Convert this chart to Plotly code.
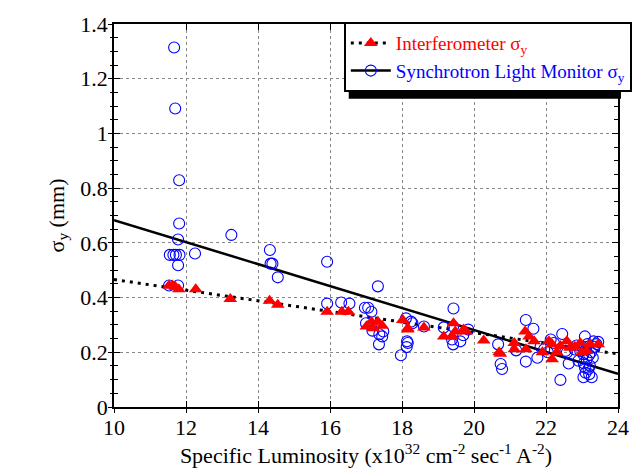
import plotly.graph_objects as go

# Synchrotron Light Monitor sigma_y (open blue circles)
slm_x = [11.67, 11.70, 11.81, 11.81, 11.78, 11.55, 11.65, 11.72, 11.82, 11.78, 12.25, 13.26,
         14.33, 14.35, 14.40, 14.55, 11.53, 11.78, 15.92, 17.33, 15.92, 16.31, 16.54, 16.97,
         17.06, 17.15, 17.15, 17.37, 17.48, 17.36, 18.11, 18.25, 18.16, 18.13, 17.97, 18.29,
         18.14, 18.61, 19.43, 19.16, 19.42, 19.39, 19.42, 19.62, 19.70, 19.84, 20.67, 20.74,
         20.78, 21.44, 21.65, 21.17, 21.44, 21.76, 22.13, 22.22, 22.45, 22.63, 22.40, 21.95,
         22.54, 22.58, 23.08, 23.32, 23.45, 22.95, 23.04, 23.13, 22.90, 23.08, 23.18, 23.04,
         23.27, 23.22, 23.00, 23.10, 23.20, 23.15, 23.25, 23.30, 23.05, 23.10, 23.20, 23.35,
         23.40, 22.80, 22.85, 21.85, 22.05, 17.00, 17.18, 17.45]
slm_y = [1.314, 1.091, 0.829, 0.671, 0.612, 0.556, 0.556, 0.556, 0.556, 0.518, 0.561, 0.629,
         0.574, 0.524, 0.524, 0.474, 0.444, 0.444, 0.531, 0.441, 0.378, 0.382, 0.378, 0.363,
         0.363, 0.348, 0.300, 0.266, 0.276, 0.229, 0.324, 0.312, 0.234, 0.219, 0.189, 0.306,
         0.240, 0.294, 0.360, 0.291, 0.294, 0.247, 0.229, 0.240, 0.262, 0.283, 0.229, 0.157,
         0.139, 0.318, 0.286, 0.207, 0.166, 0.180, 0.247, 0.234, 0.267, 0.159, 0.099, 0.211,
         0.205, 0.199, 0.258, 0.240, 0.238, 0.205, 0.193, 0.175, 0.169, 0.145, 0.139, 0.109,
         0.109, 0.151, 0.220, 0.210, 0.190, 0.230, 0.200, 0.180, 0.160, 0.125, 0.120, 0.220,
         0.230, 0.210, 0.225, 0.220, 0.200, 0.306, 0.279, 0.258]

# Interferometer sigma_y (filled red triangles)
int_x = [11.53, 11.62, 11.70, 11.80, 12.27, 13.23, 14.32, 14.55, 15.92, 16.33, 16.51, 17.01,
         17.15, 17.33, 17.45, 17.20, 18.02, 18.16, 18.16, 18.61, 19.16, 19.43, 19.48, 19.39,
         19.71, 19.78, 20.27, 20.73, 20.70, 21.12, 21.12, 21.42, 21.53, 21.67, 21.44, 22.08,
         22.17, 22.17, 22.40, 22.58, 22.67, 22.95, 23.22, 23.45, 23.13, 21.90, 22.30, 22.80,
         23.00]
int_y = [0.444, 0.444, 0.440, 0.430, 0.430, 0.395, 0.388, 0.374, 0.348, 0.348, 0.348, 0.294,
         0.312, 0.312, 0.297, 0.288, 0.318, 0.288, 0.283, 0.291, 0.258, 0.306, 0.276, 0.258,
         0.283, 0.276, 0.243, 0.195, 0.200, 0.211, 0.234, 0.276, 0.258, 0.240, 0.211, 0.240,
         0.229, 0.175, 0.223, 0.240, 0.217, 0.234, 0.229, 0.229, 0.205, 0.200, 0.200, 0.220,
         0.200]

# Linear fits (endpoints)
fit_x = [10, 24]
slm_fit_y = [0.683, 0.121]
int_fit_y = [0.466, 0.194]

x_ticks = [10, 12, 14, 16, 18, 20, 22, 24]
y_ticks = [0, 0.2, 0.4, 0.6, 0.8, 1.0, 1.2, 1.4]
y_tick_text = ["0", "0.2", "0.4", "0.6", "0.8", "1", "1.2", "1.4"]

RED = "#ff0000"
BLUE = "#0000ff"
FONT = "Liberation Serif"
DOTS = "3px,5px"

fig = go.Figure()

fig.add_trace(go.Scatter(x=fit_x, y=slm_fit_y, mode="lines", showlegend=False,
                         line=dict(color="black", width=2.5)))
fig.add_trace(go.Scatter(x=fit_x, y=int_fit_y, mode="lines", showlegend=False,
                         line=dict(color="black", width=3, dash=DOTS)))
fig.add_trace(go.Scatter(x=slm_x, y=slm_y, mode="markers", showlegend=False,
                         marker=dict(symbol="circle-open", size=11, color=BLUE,
                                     line=dict(width=1.1, color=BLUE))))
fig.add_trace(go.Scatter(x=int_x, y=int_y, mode="markers", showlegend=False,
                         marker=dict(symbol="triangle-up", size=12, color=RED,
                                     line=dict(width=0))))

# legend-only entries
fig.add_trace(go.Scatter(x=[None], y=[None], mode="lines+markers",
                         name="<span style='color:#ff0000'>Interferometer σ<sub>y</sub></span>",
                         line=dict(color="black", width=3, dash=DOTS),
                         marker=dict(symbol="triangle-up", size=12, color=RED)))
fig.add_trace(go.Scatter(x=[None], y=[None], mode="lines+markers",
                         name="<span style='color:#0000ff'>Synchrotron Light Monitor σ<sub>y</sub></span>",
                         line=dict(color="black", width=2.5),
                         marker=dict(symbol="circle-open", size=11, color=BLUE,
                                     line=dict(width=1.1, color=BLUE))))

# overlay axes for outside tick halves
fig.add_trace(go.Scatter(x=[None], y=[None], xaxis="x2", yaxis="y2", showlegend=False))

W, H = 644, 476
L, R, T, B = 114, 19, 17, 69
pw, ph = W - L - R, H - T - B

def px(xp):
    return (xp - L) / pw

def py(yp):
    return (H - B - yp) / ph

# legend shadow
fig.add_shape(type="rect", xref="paper", yref="paper",
              x0=px(352), x1=px(628), y0=py(93), y1=py(26),
              fillcolor="black", line=dict(width=0), layer="above")

grid = dict(showgrid=True, gridcolor="#888888", griddash="dot", gridwidth=1)

fig.update_layout(
    width=W, height=H,
    margin=dict(l=L, r=R, t=T, b=B),
    paper_bgcolor="white", plot_bgcolor="white",
    font=dict(family=FONT, size=22, color="black"),
    showlegend=True,
    legend=dict(x=px(347), y=py(15), xanchor="left", yanchor="top",
                bgcolor="white", bordercolor="black", borderwidth=2,
                font=dict(family=FONT, size=19), tracegroupgap=0,
                itemwidth=40),
    xaxis=dict(range=[10, 24], tickvals=x_ticks, ticks="inside", ticklen=6,
               tickwidth=1, tickcolor="black", showline=True, linecolor="black",
               linewidth=1.5, mirror="allticks", zeroline=False,
               tickfont=dict(size=22),
               title=dict(text="Specific Luminosity (x10<sup>32</sup> cm<sup>-2</sup> sec<sup>-1</sup> A<sup>-2</sup>)",
                          font=dict(size=22), standoff=3),
               **grid),
    yaxis=dict(range=[0, 1.4], tickvals=y_ticks, ticktext=y_tick_text, ticks="inside",
               ticklen=6, tickwidth=1, tickcolor="black", showline=True,
               linecolor="black", linewidth=1.5, mirror="allticks", zeroline=False,
               tickfont=dict(size=22),
               minor=dict(dtick=0.05, ticks="inside", ticklen=4, tickcolor="black",
                          showgrid=False),
               title=dict(text="σ<sub>y</sub> (mm)", font=dict(size=22), standoff=10),
               **grid),
    xaxis2=dict(overlaying="x", range=[10, 24], tickvals=x_ticks, ticks="outside",
                ticklen=5, tickcolor="black", showticklabels=False, showgrid=False,
                zeroline=False, showline=False),
    yaxis2=dict(overlaying="y", range=[0, 1.4], tickvals=y_ticks, ticks="outside",
                ticklen=5, tickcolor="black", showticklabels=False, showgrid=False,
                zeroline=False, showline=False,
                minor=dict(dtick=0.05, ticks="outside", ticklen=3, tickcolor="black")),
)

fig.write_html("out.html")
